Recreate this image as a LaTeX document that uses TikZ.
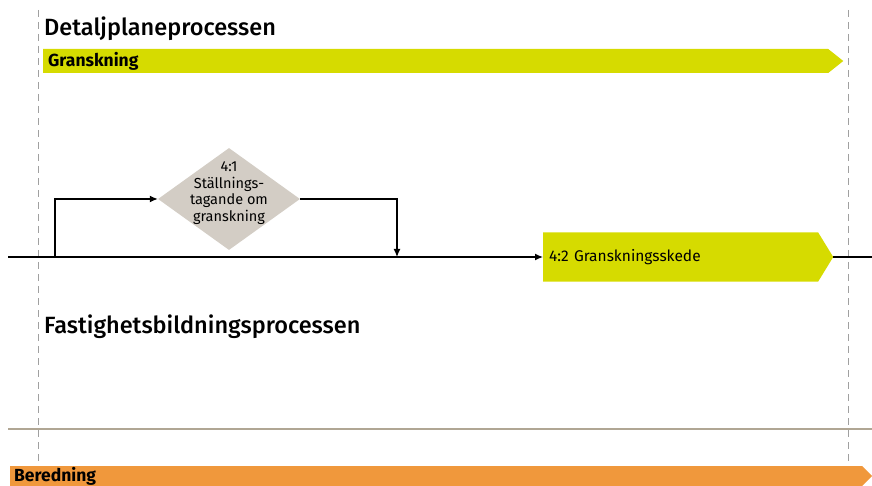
\documentclass[tikz,border=0pt]{standalone}
\usepackage{fontspec}
\setmainfont{Fira Sans}
\newfontfamily\rubrikfont{Fira Sans Medium}
\usepackage{tikz}
\usetikzlibrary{positioning,arrows.meta,shapes.geometric,shapes.symbols}
\tikzset{>={Latex[length=8pt,width=7pt]}}
\definecolor{gul}{RGB}{214,219,0}
\definecolor{beredningsorange}{RGB}{240,152,60}
\definecolor{beslutsgra}{RGB}{211,205,197}
\definecolor{streckgra}{RGB}{160,160,160}
\definecolor{sandlinje}{RGB}{176,166,148}

\begin{document}
\begin{tikzpicture}[x=1pt,y=-1pt,
                    rubrik/.style={anchor=base west,inner sep=0pt,font=\rubrikfont\fontsize{23.5}{26}\selectfont},
                    fas/.style={signal,signal to=east,anchor=west,inner ysep=0pt,align=left,font=\bfseries\fontsize{17.5}{19}\selectfont},
                    skede/.style={signal,signal to=east,fill=gul,anchor=west,inner ysep=0pt,inner xsep=6pt,align=left,font=\fontsize{15.5}{18}\selectfont},
                    beslut/.style={diamond,fill=beslutsgra,inner sep=0pt,minimum width=142pt,minimum height=102pt},
                    linje/.style={line width=1.3pt},
                    stolpe/.style={draw=streckgra,line width=1pt,dash pattern=on 7pt off 5pt},
       ]
       \useasboundingbox (0,0) rectangle (872,486);
       % stolpar
       \draw[stolpe] (38,10) -- (38,486);
       \draw[stolpe] (848,10) -- (848,486);
       \draw[sandlinje,line width=2pt] (8,429) -- (872,429);
        \node[rubrik] (detaljplan) at (44,36) {Detaljplaneprocessen};
        \node[fas,fill=gul,inner xsep=5pt,text width=775pt,minimum height=24pt,signal pointer angle=77] (granskning) at (43,61) {Granskning};
        \node[beslut,label={[yshift=6pt,align=center,font=\fontsize{14.5}{16.5}\selectfont]center:{4:1\\Ställnings-\\tagande om\\granskning}}] (stallningstagande) at (229,199) {};
        \node[skede,text width=263pt,minimum height=49pt,signal pointer angle=117] (granskningsskede) at (543,257) {4:2 Granskningsskede};
        \node[rubrik] (fastighetsbildning) at (44,333) {Fastighetsbildningsprocessen};
        \node[fas,fill=beredningsorange,inner xsep=4pt,text width=844pt,minimum height=20pt,signal pointer angle=90] (beredning) at (10,476) {Beredning};
        \coordinate (start) at (8,257);
        \coordinate (gren) at (55,257);
        \coordinate (retur) at (397,257);
        \coordinate (slut) at (872,257);
        \draw[linje,->] (start) -- (granskningsskede.west);
        \draw[linje,->] (gren) |- (stallningstagande.west);
        \draw[linje,->] (stallningstagande.east) -| (retur);
        \draw[linje] (granskningsskede.east) -- (slut);
    \end{tikzpicture}
\end{document}
